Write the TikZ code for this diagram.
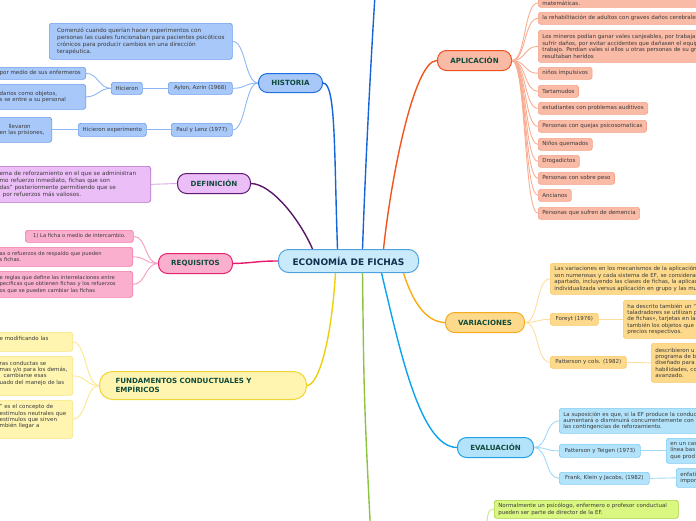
\documentclass[tikz,border=0pt]{standalone}
\usepackage{fontspec}
\setmainfont{DejaVu Sans}
\usepackage{tikz}
\definecolor{ecoFill}{HTML}{C8EAFB}
\definecolor{ecoEdge}{HTML}{4FA3DD}
\definecolor{ecoText}{HTML}{12304D}
\definecolor{titleText}{HTML}{0F4A3A}
\definecolor{leafText}{HTML}{3A3A3A}
\definecolor{histFill}{HTML}{A7C8F9}
\definecolor{histDark}{HTML}{1E6FE0}
\definecolor{histEdge}{HTML}{6C9FEE}
\definecolor{histTwig}{HTML}{8DB7F4}
\definecolor{histLine}{HTML}{1565D8}
\definecolor{defFill}{HTML}{ECBEF7}
\definecolor{defDark}{HTML}{5E1A70}
\definecolor{defEdge}{HTML}{B06CC6}
\definecolor{defTwig}{HTML}{D9A8E8}
\definecolor{defLine}{HTML}{5A1669}
\definecolor{reqFill}{HTML}{FBAFCE}
\definecolor{reqDark}{HTML}{E5226F}
\definecolor{reqEdge}{HTML}{F277A8}
\definecolor{reqTwig}{HTML}{F59BC1}
\definecolor{reqLine}{HTML}{E8176C}
\definecolor{fundFill}{HTML}{FFF5B0}
\definecolor{fundDark}{HTML}{EFD636}
\definecolor{fundEdge}{HTML}{F8E57D}
\definecolor{fundTwig}{HTML}{FBE88C}
\definecolor{fundLine}{HTML}{EDCF0E}
\definecolor{aplFill}{HTML}{F9BAA6}
\definecolor{aplDark}{HTML}{EF521F}
\definecolor{aplEdge}{HTML}{F4A287}
\definecolor{aplTwig}{HTML}{F9AC92}
\definecolor{aplLine}{HTML}{F2541E}
\definecolor{varFill}{HTML}{FDD98C}
\definecolor{varDark}{HTML}{F6AA1C}
\definecolor{varEdge}{HTML}{FBC865}
\definecolor{varTwig}{HTML}{FDDEA0}
\definecolor{varLine}{HTML}{F8AB12}
\definecolor{evalFill}{HTML}{B2E3FB}
\definecolor{evalDark}{HTML}{1EA2E5}
\definecolor{evalEdge}{HTML}{7ECCF5}
\definecolor{evalTwig}{HTML}{A0D9F7}
\definecolor{evalLine}{HTML}{0AA3EE}
\definecolor{greenFill}{HTML}{D9F781}
\definecolor{greenEdge}{HTML}{A3D23A}
\definecolor{greenTwig}{HTML}{C8E58A}
\definecolor{greenLine}{HTML}{8CC43F}

\begin{document}
\begin{tikzpicture}[
  x=1pt, y=-1pt,
  topic/.style={
    draw,
    anchor=north west,
    rounded corners=9pt,
    line width=1pt,
    inner sep=0pt,
    text=titleText,
    font=\bfseries\fontsize{7.1}{8.4}\selectfont,
  },
  leaf/.style={
    draw,
    anchor=north west,
    rounded corners=2.5pt,
    line width=0.7pt,
    inner xsep=4pt,
    inner ysep=0pt,
    align=left,
    text=leafText,
    font=\fontsize{5.5}{6.4}\selectfont,
  },
  branch/.style={line width=1.4pt},
  twig/.style={line width=0.9pt},
  hleaf/.style={leaf, fill=histFill, draw=histEdge},
  dleaf/.style={leaf, fill=defFill, draw=defEdge, font=\fontsize{5.7}{7.2}\selectfont},
  rleaf/.style={leaf, fill=reqFill, draw=reqEdge, font=\fontsize{5.2}{6.4}\selectfont},
  fleaf/.style={leaf, fill=fundFill, draw=fundEdge},
  aleaf/.style={leaf, fill=aplFill, draw=aplEdge},
  vleaf/.style={leaf, fill=varFill, draw=varEdge},
  eleaf/.style={leaf, fill=evalFill, draw=evalEdge},
  gleaf/.style={leaf, fill=greenFill, draw=greenEdge},
]
\useasboundingbox (0,0) rectangle (696,520);
\clip (0,0) rectangle (696,520);

% centre and main topics
\node[topic, fill=ecoFill, draw=ecoEdge, text=ecoText, font=\bfseries\fontsize{9}{10}\selectfont,
  rounded corners=10pt, minimum width=140pt, minimum height=23pt] (eco) at (278,249) {ECONOMÍA DE FICHAS};
\node[topic, fill=histFill, draw=histDark, minimum width=64pt, minimum height=19pt] (hist) at (258,73) {HISTORIA};
\node[topic, fill=defFill, draw=defDark, minimum width=73pt, minimum height=20pt] (defi) at (177,173) {DEFINICIÓN};
\node[topic, fill=reqFill, draw=reqDark, minimum width=74pt, minimum height=20pt] (req) at (158,253) {REQUISITOS};
\node[topic, fill=fundFill, draw=fundDark, minimum width=207pt, minimum height=28pt, rounded corners=13pt,
  align=left, text width=175pt] (fund) at (99,371) {FUNDAMENTOS CONDUCTUALES Y\\EMPÍRICOS};
\node[topic, fill=aplFill, draw=aplDark, minimum width=74pt, minimum height=20pt] (apl) at (437,50) {APLICACIÓN};
\node[topic, fill=varFill, draw=varDark, minimum width=79pt, minimum height=20pt] (var) at (445,312) {VARIACIONES};
\node[topic, fill=evalFill, draw=evalDark, minimum width=76pt, minimum height=20pt] (eval) at (457,437) {EVALUACIÓN};

\coordinate (upEnd) at (376,-20);
\coordinate (downEnd) at (371,540);
\coordinate (greenEnd) at (486,540);

\draw[branch, histLine] ([xshift=-11pt]eco.north) .. controls (334,150) and (336,83) .. (hist.east);
\draw[branch, histLine] ([xshift=14pt]eco.north) .. controls (366,150) and (372,40) .. (upEnd);
\draw[branch, defLine] ([xshift=-36pt]eco.north) .. controls (300,220) and (272,184) .. (defi.east);
\draw[branch, reqLine] (eco.west) .. controls (256,261) and (254,263) .. (req.east);
\draw[branch, fundLine] ([xshift=-13pt]eco.south) .. controls (331,345) and (318,385) .. (fund.east);
\draw[branch, greenLine] ([xshift=14pt]eco.south) .. controls (364,400) .. (downEnd);
\draw[branch, evalLine] ([xshift=33pt]eco.south) .. controls (400,350) and (420,447) .. (eval.west);
\draw[branch, varLine] ([xshift=55pt]eco.south) .. controls (412,300) and (425,322) .. (var.west);
\draw[branch, aplLine] ([xshift=35pt]eco.north) .. controls (392,170) and (415,60) .. (apl.west);

% historia
\node[hleaf, font=\fontsize{5.7}{7.3}\selectfont, minimum width=183pt, minimum height=36pt] (hOrig) at (49,23)
  {Comenzó cuando querían hacer experimentos con\\personas las cuales funcionaban para pacientes psicóticos\\crónicos para producir cambios en una dirección\\terapéutica.};
\node[hleaf, minimum width=64pt, minimum height=12pt] (hAylon) at (168,82) {Aylon, Azrin (1968)};
\node[hleaf, minimum width=31pt, minimum height=12pt] (hHic) at (111,82) {Hicieron};
\node[hleaf, anchor=north east, text width=82pt, minimum height=12pt] (hEnf) at (86,67) {por medio de sus enfermeros};
\node[hleaf, anchor=north east, text width=82pt, minimum height=25pt] (hObj) at (86,84) {darios como objetos,\\s se entre a su personal};
\node[hleaf, minimum width=61pt, minimum height=13pt] (hPaul) at (171,123) {Paul y Lenz (1977)};
\node[hleaf, minimum width=68pt, minimum height=13pt] (hExp) at (78,123) {Hicieron experimento};
\node[hleaf, anchor=north east, text width=48pt, minimum height=25pt] (hPris) at (52,117) {\hspace*{9pt}llevaron\\en las prisiones,};
\foreach \c in {hOrig,hAylon,hPaul}
  \draw[twig, histTwig] (hist.west) .. controls +(-13,0) and +(13,0) .. (\c.east);
\foreach \c in {hEnf,hObj}
  \draw[twig, histTwig] (hHic.west) .. controls +(-12,0) and +(12,0) .. (\c.east);
\draw[twig, histTwig] (hAylon.west) -- (hHic.east);
\draw[twig, histTwig] (hPaul.west) -- (hExp.east);
\draw[twig, histTwig] (hExp.west) -- (hPris.east);

% definicion
\node[dleaf, anchor=north east, text width=147pt, minimum height=36pt] (dText) at (151,166)
  {ema de reforzamiento en el que se administran\\mo refuerzo inmediato, fichas que son\\das” posteriormente permitiendo que se\\\hspace*{3pt}por refuerzos más valiosos.};
\draw[twig, defTwig] (defi.west) -- (dText.east);

% requisitos
\node[rleaf, minimum width=108pt, minimum height=12pt] (rFicha) at (25,230) {1) La ficha o medio de intercambio.};
\node[rleaf, anchor=north east, text width=129pt, minimum height=19pt] (rRespaldo) at (133,247)
  {as o refuerzos de respaldo que pueden\\s fichas.};
\node[rleaf, anchor=north east, text width=129pt, minimum height=26pt] (rReglas) at (133,271)
  {e reglas que define las interrelaciones entre\\pecificas que obtienen fichas y los refuerzos\\os que se pueden cambiar las fichas};
\foreach \c in {rFicha,rRespaldo,rReglas}
  \draw[twig, reqTwig] (req.west) .. controls +(-13,0) and +(13,0) .. (\c.east);

% fundamentos
\node[fleaf, anchor=north east, text width=69pt, minimum height=19pt] (fMod) at (73,332) {e modificando las\\\null};
\node[fleaf, anchor=north east, text width=69pt, minimum height=39pt] (fConducta) at (73,356)
  {ras conductas se\\mas y/o para los demás,\\\hspace*{4pt}cambiarse esas\\uado del manejo de las\\\null};
\node[fleaf, anchor=north east, text width=69pt, minimum height=38pt] (fEstimulo) at (73,400)
  {” es el concepto de\\estímulos neutrales que\\estímulos que sirven\\mbién llegar a\\\null};
\foreach \c in {fMod,fConducta,fEstimulo}
  \draw[twig, fundTwig] (fund.west) .. controls +(-13,0) and +(13,0) .. (\c.east);

% aplicacion
\node[aleaf, text width=200pt, minimum height=9pt] (aMat) at (538,-2) {matemáticas.};
\node[aleaf, text width=200pt, minimum height=12pt] (aRehab) at (538,12) {la rehabilitación de adultos con graves daños cerebrales};
\node[aleaf, text width=200pt, minimum height=32pt] (aMin) at (538,30)
  {Los mineros podían ganar vales canjeables, por trabaja\\sufrir daños, por evitar accidentes que dañasen el equip\\trabajo. Perdían vales si ellos u otras personas de su gr\\resultaban heridos};
\foreach \c in {aMat,aRehab,aMin}
  \draw[twig, aplTwig] (apl.east) .. controls +(14,0) and +(-14,0) .. (\c.west);
\foreach \y/\w/\txt [count=\k from 3] in {
    67/53pt/niños impulsivos,
    85/40pt/Tartamudos,
    102/109pt/estudiantes con problemas auditivos,
    120/108pt/Personas con quejas psicosomaticas,
    138/53pt/Niños quemados,
    155/41pt/Drogadictos,
    172/76pt/Personas con sobre peso,
    189/33pt/Ancianos,
    207/101pt/Personas que sufren de demencia} {
  \node[aleaf, minimum width=\w, minimum height=12pt] (a\k) at (538,\y) {\txt};
  \draw[twig, aplTwig] (apl.east) .. controls +(14,0) and +(-14,0) .. (a\k.west);
}

% variaciones
\node[vleaf, text width=200pt, minimum height=31pt] (vMec) at (550,263)
  {Las variaciones en los mecanismos de la aplicación\\son numerosas y cada sistema de EF, se considerar\\apartado, incluyendo las clases de fichas, la aplicac\\individualizada versus aplicación en grupo y las mu};
\node[vleaf, minimum width=48pt, minimum height=12pt] (vForeyt) at (550,313) {Foreyt (1976)};
\node[vleaf, text width=200pt, minimum height=38pt] (vTal) at (623,300)
  {ha descrito también un “\\taladradores se utilizan p\\de fichas», tarjetas en la\\también los objetos que\\precios respectivos.};
\node[vleaf, minimum width=76pt, minimum height=12pt] (vPatt) at (550,356) {Patterson y cols. (1982)};
\node[vleaf, text width=200pt, minimum height=39pt] (vProg) at (651,343)
  {describieron u\\programa de b\\diseñado para\\habilidades, co\\avanzado.};
\foreach \c in {vMec,vForeyt,vPatt}
  \draw[twig, varTwig] (var.east) .. controls +(14,0) and +(-14,0) .. (\c.west);
\draw[twig, varTwig] (vForeyt.east) -- (vTal.west);
\draw[twig, varTwig] (vPatt.east) -- (vProg.west);

% evaluacion
\node[eleaf, text width=200pt, minimum height=25pt] (eSup) at (559,408)
  {La suposición es que, si la EF produce la conduc\\aumentará o disminuirá concurrentemente con\\las contingencias de reforzamiento.};
\node[eleaf, minimum width=81pt, minimum height=13pt] (eTeigen) at (559,444) {Patterson y Teigen (1973)};
\node[eleaf, text width=200pt, minimum height=25pt] (eCaso) at (666,438) {en un cas\\línea bas\\que prod};
\node[eleaf, minimum width=90pt, minimum height=12pt] (eFrank) at (559,472) {Frank, Klein y Jacobs, (1982)};
\node[eleaf, text width=200pt, minimum height=19pt] (eEnf) at (676,468) {enfati\\impor};
\foreach \c in {eSup,eTeigen,eFrank}
  \draw[twig, evalTwig] (eval.east) .. controls +(14,0) and +(-14,0) .. (\c.west);
\draw[twig, evalTwig] (eTeigen.east) -- (eCaso.west);
\draw[twig, evalTwig] (eFrank.east) -- (eEnf.west);

% director
\node[gleaf, minimum width=184pt, minimum height=18pt, text width=176pt] (gDir) at (494,500)
  {Normalmente un psicólogo, enfermero o profesor conductual\\pueden ser parte de director de la EF.};
\draw[twig, greenTwig] (greenEnd) .. controls (487,512) and (488,509) .. (gDir.west);
\end{tikzpicture}
\end{document}
